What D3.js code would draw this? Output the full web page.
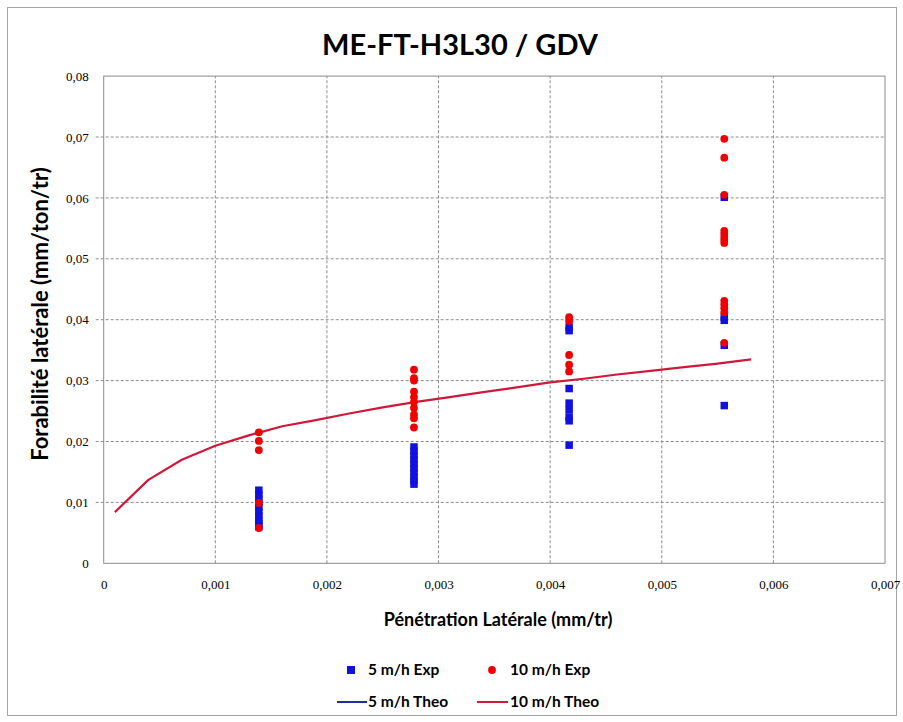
<!DOCTYPE html>
<html>
<head>
<meta charset="utf-8">
<script src="https://cdn.jsdelivr.net/npm/d3@7"></script>
<style>
  html, body { margin: 0; padding: 0; background: #fff; }
  svg { display: block; }
</style>
</head>
<body>
<svg id="chart" width="903" height="722"></svg>
<script>
// ---------------- DATA ----------------
const titleText = "ME-FT-H3L30 / GDV";
const xAxisTitle = "Pénétration Latérale (mm/tr)";
const yAxisTitle = "Forabilité latérale (mm/ton/tr)";

const xTickValues = [0, 0.001, 0.002, 0.003, 0.004, 0.005, 0.006, 0.007];
const xTickLabels = ["0", "0,001", "0,002", "0,003", "0,004", "0,005", "0,006", "0,007"];
const yTickValues = [0, 0.01, 0.02, 0.03, 0.04, 0.05, 0.06, 0.07, 0.08];
const yTickLabels = ["0", "0,01", "0,02", "0,03", "0,04", "0,05", "0,06", "0,07", "0,08"];

// 5 m/h Exp (blue squares)
const exp5X = [
  0.00139, 0.00139, 0.00139, 0.00139, 0.00139, 0.00139, 0.00139, 0.00139, 0.00139, 0.00139,
  0.00278, 0.00278, 0.00278, 0.00278, 0.00278, 0.00278, 0.00278, 0.00278, 0.00278, 0.00278,
  0.00417, 0.00417, 0.00417, 0.00417, 0.00417, 0.00417, 0.00417, 0.00417,
  0.00556, 0.00556, 0.00556, 0.00556, 0.00556
];
const exp5Y = [
  0.0120, 0.0113, 0.0106, 0.0099, 0.0092, 0.0085, 0.0078, 0.0071, 0.0065, 0.0060,
  0.0191, 0.0184, 0.0177, 0.0170, 0.0163, 0.0156, 0.0149, 0.0142, 0.0136, 0.0130,
  0.0388, 0.0382, 0.0287, 0.0263, 0.0252, 0.0240, 0.0234, 0.0194,
  0.0601, 0.0404, 0.0399, 0.0358, 0.0259
];

// 10 m/h Exp (red circles)
const exp10X = [
  0.00139, 0.00139, 0.00139, 0.00139, 0.00139,
  0.00278, 0.00278, 0.00278, 0.00278, 0.00278, 0.00278, 0.00278, 0.00278, 0.00278, 0.00278,
  0.00417, 0.00417, 0.00417, 0.00417, 0.00417,
  0.00556, 0.00556, 0.00556, 0.00556, 0.00556, 0.00556, 0.00556, 0.00556, 0.00556, 0.00556, 0.00556, 0.00556, 0.00556
];
const exp10Y = [
  0.0215, 0.0201, 0.0186, 0.0099, 0.0058,
  0.0318, 0.0304, 0.0300, 0.0282, 0.0273, 0.0265, 0.0255, 0.0244, 0.0238, 0.0223,
  0.0404, 0.0398, 0.0342, 0.0326, 0.0315,
  0.0697, 0.0666, 0.0605, 0.0546, 0.0541, 0.0536, 0.0531, 0.0526, 0.0431, 0.0425, 0.0419, 0.0412, 0.0362
];

// 10 m/h Theo (red line)
const theo10X = [0.0001, 0.0004, 0.0007, 0.0010, 0.0013, 0.0016, 0.0019, 0.0022, 0.0025, 0.0028,
                 0.0031, 0.0034, 0.0037, 0.0040, 0.0043, 0.0046, 0.0049, 0.0052, 0.0055, 0.0058];
const theo10Y = [0.0084, 0.0137, 0.0170, 0.0193, 0.0210, 0.0225, 0.0235, 0.0246, 0.0256, 0.0265,
                 0.0273, 0.0281, 0.0289, 0.0297, 0.0303, 0.0310, 0.0316, 0.0322, 0.0328, 0.0335];

const legendItems = ["5 m/h Exp", "10 m/h Exp", "5 m/h Theo", "10 m/h Theo"];

// ---------------- CHART ----------------
const svg = d3.select("#chart");
const blue = "#1010e0";
const red = "#f00000";
const lineRed = "#d0183a";
const lineBlue = "#1f2f9f";
const sans = "Lato, 'Open Sans', sans-serif";
const serif = "'Liberation Serif', 'DejaVu Serif', serif";

// outer frame
svg.append("rect")
  .attr("x", 7.5).attr("y", 7.5).attr("width", 889).attr("height", 708)
  .attr("fill", "#fff").attr("stroke", "#a6a6a6").attr("stroke-width", 1);

const x = d3.scaleLinear().domain([0, 0.007]).range([103.7, 885]);
const y = d3.scaleLinear().domain([0, 0.08]).range([563.3, 76.1]);

// gridlines
const grid = svg.append("g");
grid.selectAll("line.v").data(xTickValues.slice(1, -1)).enter().append("line")
  .attr("x1", d => x(d)).attr("x2", d => x(d))
  .attr("y1", y(0)).attr("y2", y(0.08))
  .attr("stroke", "#8c8c8c").attr("stroke-width", 1).attr("stroke-dasharray", "3,2");
grid.selectAll("line.h").data(yTickValues.slice(1, -1)).enter().append("line")
  .attr("x1", x(0) - 8).attr("x2", x(0.007))
  .attr("y1", d => y(d)).attr("y2", d => y(d))
  .attr("stroke", "#8c8c8c").attr("stroke-width", 1).attr("stroke-dasharray", "3,2");

// plot border
svg.append("rect")
  .attr("x", x(0)).attr("y", y(0.08))
  .attr("width", x(0.007) - x(0)).attr("height", y(0) - y(0.08))
  .attr("fill", "none").attr("stroke", "#8c8c8c").attr("stroke-width", 1);

// axis tick labels via d3 axes
const xAxis = d3.axisBottom(x).tickValues(xTickValues)
  .tickFormat((d, i) => xTickLabels[i]).tickSize(0).tickPadding(16);
const gx = svg.append("g").attr("transform", `translate(0,${y(0)})`).call(xAxis);
gx.select(".domain").remove();
gx.selectAll("text").attr("font-family", serif).attr("font-size", 13).attr("fill", "#000");

const yAxis = d3.axisLeft(y).tickValues(yTickValues)
  .tickFormat((d, i) => yTickLabels[i]).tickSize(0).tickPadding(15);
const gy = svg.append("g").attr("transform", `translate(${x(0)},0)`).call(yAxis);
gy.select(".domain").remove();
gy.selectAll("text").attr("font-family", serif).attr("font-size", 13).attr("fill", "#000");

// theoretical line
const theo10 = theo10X.map((d, i) => [d, theo10Y[i]]);
const line = d3.line().x(d => x(d[0])).y(d => y(d[1]));
svg.append("path").datum(theo10)
  .attr("d", line).attr("fill", "none")
  .attr("stroke", lineRed).attr("stroke-width", 2.2).attr("stroke-linejoin", "round");

// blue squares
const exp5 = exp5X.map((d, i) => [d, exp5Y[i]]);
const sq = 7.5;
svg.append("g").selectAll("rect").data(exp5).enter().append("rect")
  .attr("x", d => x(d[0]) - sq / 2).attr("y", d => y(d[1]) - sq / 2)
  .attr("width", sq).attr("height", sq).attr("fill", blue);

// red circles
const exp10 = exp10X.map((d, i) => [d, exp10Y[i]]);
svg.append("g").selectAll("circle").data(exp10).enter().append("circle")
  .attr("cx", d => x(d[0])).attr("cy", d => y(d[1]))
  .attr("r", 3.9).attr("fill", red);

// title
svg.append("text")
  .attr("x", 460).attr("y", 55)
  .attr("text-anchor", "middle")
  .attr("font-family", sans)
  .attr("font-weight", "bold").attr("font-size", 29)
  .attr("fill", "#000")
  .text(titleText);

// axis titles
svg.append("text")
  .attr("x", 498).attr("y", 626)
  .attr("text-anchor", "middle")
  .attr("font-family", sans)
  .attr("font-weight", "bold").attr("font-size", 18)
  .attr("fill", "#000")
  .text(xAxisTitle);

svg.append("text")
  .attr("transform", `translate(48,314) rotate(-90)`)
  .attr("text-anchor", "middle")
  .attr("font-family", sans)
  .attr("font-weight", "bold").attr("font-size", 22)
  .attr("fill", "#000")
  .text(yAxisTitle);

// legend
const lg = svg.append("g")
  .attr("font-family", sans)
  .attr("font-weight", "bold").attr("font-size", 15.5).attr("fill", "#000");

lg.append("rect").attr("x", 347).attr("y", 666).attr("width", 8).attr("height", 8).attr("fill", blue);
lg.append("text").attr("x", 368).attr("y", 675).text(legendItems[0]);
lg.append("circle").attr("cx", 492).attr("cy", 670).attr("r", 3.9).attr("fill", red);
lg.append("text").attr("x", 510).attr("y", 675).text(legendItems[1]);
lg.append("line").attr("x1", 337).attr("x2", 367).attr("y1", 702).attr("y2", 702)
  .attr("stroke", lineBlue).attr("stroke-width", 2);
lg.append("text").attr("x", 368).attr("y", 707).text(legendItems[2]);
lg.append("line").attr("x1", 477).attr("x2", 508).attr("y1", 702).attr("y2", 702)
  .attr("stroke", lineRed).attr("stroke-width", 2);
lg.append("text").attr("x", 510).attr("y", 707).text(legendItems[3]);
</script>
</body>
</html>
